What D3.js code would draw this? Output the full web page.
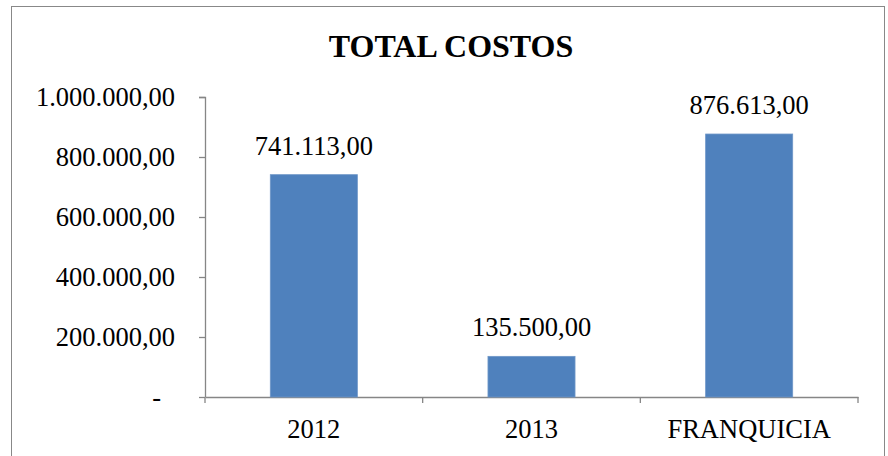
<!DOCTYPE html>
<html>
<head>
<meta charset="utf-8">
<script src="https://cdn.jsdelivr.net/npm/d3@7"></script>
<style>
  body { margin: 0; background: #fff; }
  text { font-family: "Liberation Serif", "Times New Roman", serif; fill: #000; }
</style>
</head>
<body>
<div id="chart"></div>
<script>
// chart data
const categories = ['2012', '2013', 'FRANQUICIA'];
const costos = [741113, 135500, 876613];
const yTicks = [0, 200000, 400000, 600000, 800000, 1000000];
const title = 'TOTAL COSTOS';

const W = 888, H = 456;
const margin = { left: 205, right: 30, top: 97, bottom: 59 };
const w = W - margin.left - margin.right;
const h = H - margin.top - margin.bottom;

// es-style number format: 1.000.000,00
const fmt = d3.formatLocale({ decimal: ',', thousands: '.', grouping: [3], currency: ['', ''] }).format(',.2f');

const svg = d3.select('#chart').append('svg')
    .attr('width', W).attr('height', H);

// outer frame
svg.append('rect')
    .attr('x', 11.5).attr('y', 6.5)
    .attr('width', 873).attr('height', 460)
    .attr('fill', 'none').attr('stroke', '#888').attr('stroke-width', 1);

svg.append('text')
    .attr('x', 451).attr('y', 57)
    .attr('text-anchor', 'middle')
    .style('font-size', '32px').style('font-weight', 'bold')
    .text(title);

const g = svg.append('g').attr('transform', `translate(${margin.left},${margin.top})`);

const x = d3.scaleBand().domain(categories).range([0, w]).padding(0);
const y = d3.scaleLinear().domain([0, 1000000]).range([h, 0]);

// y axis
const yAxis = g.append('g').attr('class', 'y-axis')
    .call(d3.axisLeft(y).tickValues(yTicks).tickSize(6).tickPadding(24)
        .tickFormat(d => d === 0 ? '-' : fmt(d)));
yAxis.selectAll('text').style('font-size', '26.5px');
yAxis.selectAll('.tick text').filter(d => d === 0).attr('dx', '-14px');

// x axis with ticks on category boundaries
const xAxis = g.append('g').attr('class', 'x-axis')
    .attr('transform', `translate(0,${h})`)
    .call(d3.axisBottom(x).tickSize(0).tickPadding(22));
xAxis.selectAll('text').style('font-size', '26.5px');
xAxis.selectAll('.boundary')
    .data(d3.range(categories.length + 1))
    .enter().append('line')
    .attr('x1', i => i * x.step()).attr('x2', i => i * x.step())
    .attr('y1', 0).attr('y2', 6);

svg.selectAll('.domain, .tick line, .x-axis line').attr('stroke', '#868686').attr('stroke-width', 1.3);
yAxis.select('.domain').attr('d', `M-6,0.5H0.5V${h}`);

// bars
const barW = x.bandwidth() * 0.4;
g.selectAll('.bar').data(costos).enter().append('rect')
    .attr('class', 'bar')
    .attr('x', (d, i) => x(categories[i]) + (x.bandwidth() - barW) / 2)
    .attr('y', d => y(d))
    .attr('width', barW)
    .attr('height', d => h - y(d))
    .attr('fill', '#4F81BD')
    .attr('stroke', '#6f97c8').attr('stroke-width', 0.8);

// value labels
g.selectAll('.val').data(costos).enter().append('text')
    .attr('class', 'val')
    .attr('x', (d, i) => x(categories[i]) + x.bandwidth() / 2)
    .attr('y', d => y(d) - 20)
    .attr('text-anchor', 'middle')
    .style('font-size', '26.5px')
    .text(d => fmt(d));
</script>
</body>
</html>
